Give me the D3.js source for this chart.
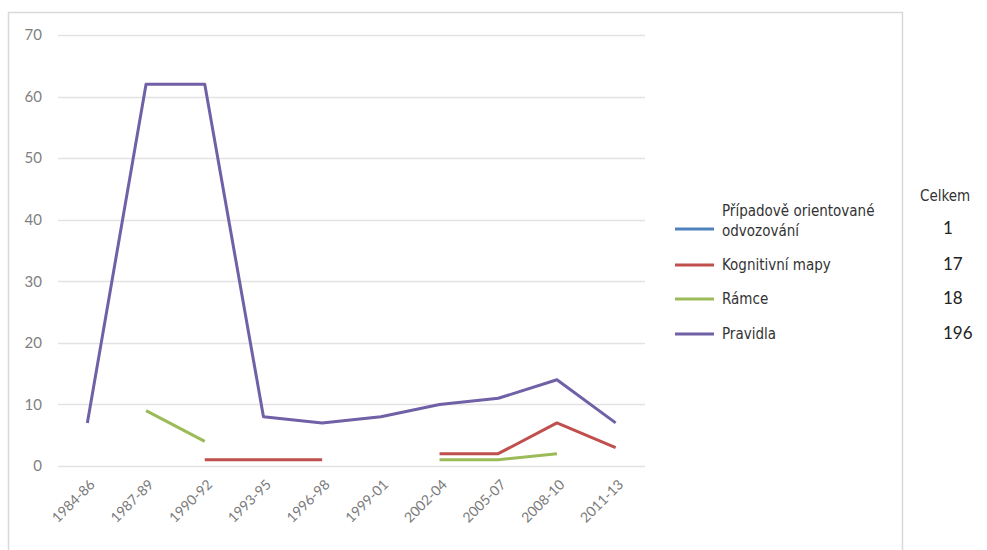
<!DOCTYPE html>
<html>
<head>
<meta charset="utf-8">
<script src="https://cdn.jsdelivr.net/npm/d3@7"></script>
<style>
  html, body { margin: 0; padding: 0; background: #fff; }
  svg { display: block; }
</style>
</head>
<body>
<svg id="chart" width="987" height="550"></svg>
<script>
// Three-year periods on the x axis
const periods = ["1984-86", "1987-89", "1990-92", "1993-95", "1996-98",
                 "1999-01", "2002-04", "2005-07", "2008-10", "2011-13"];

// Counts per period for each method (null = no publication in that period)
const pripadove = [null, null, null, null, null, null, null, null, null, null];
const kognitivni = [null, null, 1, 1, 1, null, 2, 2, 7, 3];
const ramce = [null, 9, 4, null, null, null, 1, 1, 2, null];
const pravidla = [7, 62, 62, 8, 7, 8, 10, 11, 14, 7];

const seriesNames = ["Případově orientované odvozování", "Kognitivní mapy", "Rámce", "Pravidla"];
const seriesColors = ["#4f81bd", "#c0504d", "#9bbb59", "#7060a6"];
const totals = [1, 17, 18, 196];

const yTicks = [0, 10, 20, 30, 40, 50, 60, 70];

const series = [pripadove, kognitivni, ramce, pravidla];

const svg = d3.select("#chart");

// Chart frame
svg.append("path")
  .attr("d", "M8.5,560 L8.5,12.5 L902.5,12.5 L902.5,560")
  .attr("fill", "none")
  .attr("stroke", "#d9d9d9")
  .attr("stroke-width", 1.5);

const x = d3.scaleBand().domain(periods).range([58, 645]).padding(0);
const y = d3.scaleLinear().domain([0, 70]).range([466, 35]);
const cx = p => x(p) + x.bandwidth() / 2;

// Horizontal gridlines
svg.append("g")
  .selectAll("line")
  .data(yTicks)
  .join("line")
  .attr("x1", 58).attr("x2", 645)
  .attr("y1", d => Math.round(y(d)) + 0.5)
  .attr("y2", d => Math.round(y(d)) + 0.5)
  .attr("stroke", "#e3e3e3")
  .attr("stroke-width", 1.5);

// Y axis labels
const yAxis = d3.axisLeft(y).tickValues(yTicks).tickSize(0).tickPadding(0);
svg.append("g")
  .attr("transform", "translate(42,0)")
  .call(yAxis)
  .call(g => g.select(".domain").remove())
  .call(g => g.selectAll("text")
    .attr("font-family", "Lato, 'Open Sans', sans-serif")
    .attr("font-size", 15)
    .attr("fill", "#7f7f7f"));

// X axis labels, rotated
const xAxis = d3.axisBottom(x).tickSize(0).tickPadding(0);
svg.append("g")
  .attr("transform", "translate(0,466)")
  .call(xAxis)
  .call(g => g.select(".domain").remove())
  .call(g => g.selectAll("text")
    .attr("font-family", "Lato, 'Open Sans', sans-serif")
    .attr("font-size", 14)
    .attr("fill", "#7a7a7a")
    .attr("text-anchor", "end")
    .attr("dy", "0.35em")
    .attr("transform", "translate(5,16) rotate(-45)"));

// Series lines
const line = d3.line()
  .defined(d => d.v != null)
  .x(d => cx(d.p))
  .y(d => y(d.v));

svg.append("g")
  .selectAll("path")
  .data(series.map((vals, i) => ({ i, pts: vals.map((v, k) => ({ p: periods[k], v })) })))
  .join("path")
  .attr("d", d => line(d.pts))
  .attr("fill", "none")
  .attr("stroke", d => seriesColors[d.i])
  .attr("stroke-width", 3)
  .attr("stroke-linejoin", "round");

// Legend
const legendFont = "'Liberation Sans Narrow', 'Arial Narrow', 'DejaVu Sans Condensed', sans-serif";
const legendRows = [
  { lines: ["Případově orientované", "odvozování"], y: 229 },
  { lines: ["Kognitivní mapy"], y: 265 },
  { lines: ["Rámce"], y: 299 },
  { lines: ["Pravidla"], y: 334 }
];
const lg = svg.append("g");
legendRows.forEach((r, i) => {
  lg.append("line")
    .attr("x1", 675).attr("x2", 714)
    .attr("y1", r.y).attr("y2", r.y)
    .attr("stroke", seriesColors[i])
    .attr("stroke-width", 3);
  const t = lg.append("text")
    .attr("font-family", legendFont)
    .attr("font-size", 15)
    .attr("fill", "#333");
  if (r.lines.length === 2) {
    t.append("tspan").attr("x", 722).attr("y", r.y - 13).text(r.lines[0]);
    t.append("tspan").attr("x", 722).attr("y", r.y + 7).text(r.lines[1]);
  } else {
    t.attr("x", 722).attr("y", r.y + 5).text(r.lines[0]);
  }
});

// Totals column
svg.append("text")
  .attr("x", 920).attr("y", 201)
  .attr("font-family", legendFont)
  .attr("font-size", 15)
  .attr("fill", "#333")
  .text("Celkem");

svg.append("g")
  .selectAll("text")
  .data(totals)
  .join("text")
  .attr("x", 943)
  .attr("y", (d, i) => legendRows[i].y + 5)
  .attr("font-family", "Lato, 'Open Sans', sans-serif")
  .attr("font-size", 17)
  .attr("fill", "#222")
  .text(d => d);
</script>
</body>
</html>
